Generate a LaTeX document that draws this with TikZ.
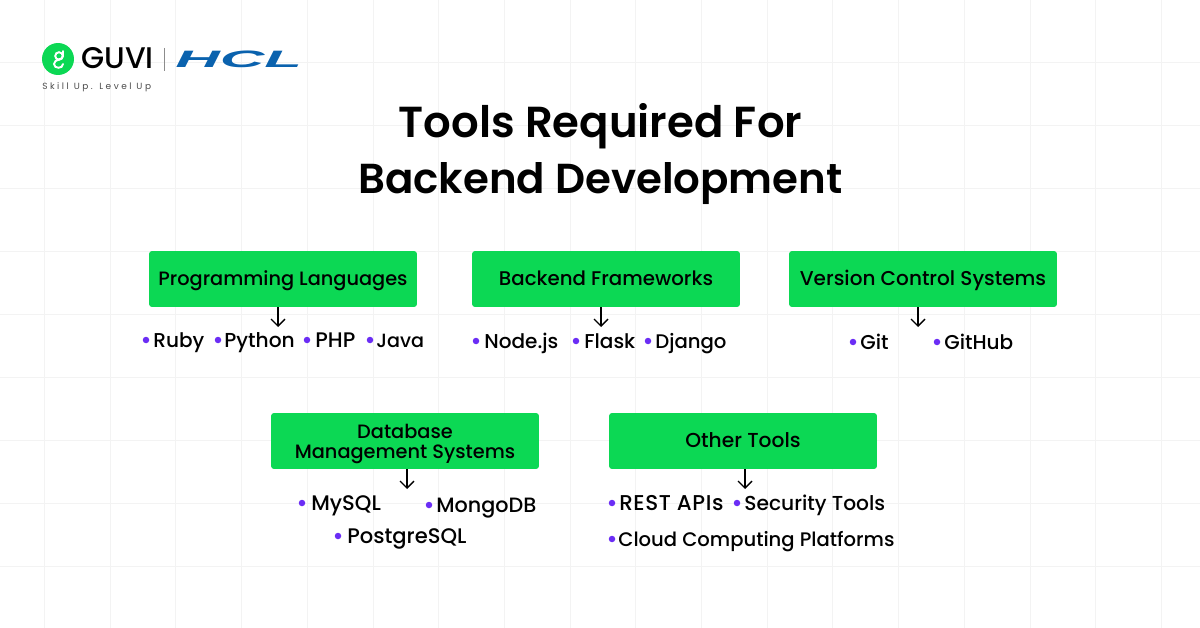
\documentclass[tikz,border=0pt]{standalone}
\usepackage{fontspec}
\setmainfont{Poppins}
\newfontfamily\medfont{Poppins Medium}
\newfontfamily\semifont{Poppins SemiBold}
\newfontfamily\hclfont{Liberation Sans}
\usetikzlibrary{arrows.meta}
\definecolor{guvigreen}{HTML}{0CD854}
\definecolor{guvipurple}{HTML}{6B2DF5}
\definecolor{hclblue}{HTML}{0A62AE}
\definecolor{gridgray}{HTML}{F3F3F3}
\tikzset{
  groupbox/.style={fill=guvigreen, rounded corners=1.7pt, minimum width=5.36cm, minimum height=1.12cm, inner sep=0pt, align=center, font=\medfont\fontsize{#1}{11.4}\selectfont, text=black},
  groupbox/.default=11.2,
  oneline/.style={text height=8.6pt, text depth=1.6pt},
  itemtext/.style={anchor=base west, inner sep=0pt, font=\medfont\fontsize{#1}{#1}\selectfont, text=black},
  itemtext/.default=11.4,
  itemdot/.style={circle, fill=guvipurple, minimum size=0.13cm, inner sep=0pt},
  downarrow/.style={-{Straight Barb[length=4pt,width=8pt]}, line width=0.75pt, black},
}
\begin{document}
\begin{tikzpicture}[x=0.02cm, y=-0.02cm]
  \useasboundingbox (0, 0) rectangle (1200, 628);
  \fill[white] (0, 0) rectangle (1200, 628);

  % grid
  \foreach \gx in {0,...,17} \draw[gridgray, line width=0.5pt] (44.5 + 65.7*\gx, 0) -- (44.5 + 65.7*\gx, 628);
  \foreach \gy in {0,...,8} \draw[gridgray, line width=0.5pt] (0, 62 + 63*\gy) -- (1200, 62 + 63*\gy);

  % logo
  \node[circle, fill=guvigreen, minimum size=0.64cm, inner sep=0pt] (logodot) at (58, 59) {};
  \draw[white, line width=1.1pt, line cap=round] (59, 56) circle (3.8);
  \draw[white, line width=1.1pt, line cap=round] (63, 51) -- (63, 56) .. controls (63, 60) and (54, 59) .. (54, 64) .. controls (54, 69) and (63, 69) .. (63, 64);
  \node[anchor=base west, inner sep=0pt, font=\medfont\fontsize{17}{17}\selectfont, text=black] (guvi) at (81, 69) {GUVI};
  \draw[black!45, line width=0.4pt] (164.5, 48) -- (164.5, 71);
  \node[anchor=base west, inner sep=0pt, text=hclblue, font=\hclfont\bfseries\itshape\fontsize{13.5}{14}\selectfont] (hcl) at (175, 68) {\scalebox{2.6}[1]{HCL}};
  \node[anchor=base west, inner sep=0pt, text=black!70, font=\fontsize{5.1}{6}\selectfont] (slogan) at (42, 90) {\addfontfeatures{LetterSpace=28}Skill Up. Level Up};

  % title
  \node[align=center, text=black, font=\semifont\fontsize{23.85}{32}\selectfont] (title) at (600.5, 154) {{\fontsize{24.7}{32}\selectfont Tools Required For}\\Backend Development};

  % boxes
  \node[groupbox=11, oneline] (lang) at (283, 279) {Programming Languages};
  \node[groupbox=11.25, oneline] (frame) at (606, 279) {Backend Frameworks};
  \node[groupbox=11.4, oneline] (vcs) at (923, 279) {Version Control Systems};
  \node[groupbox=11] (db) at (405, 441) {\rule{0pt}{11.7pt}Database\\Management Systems};
  \node[groupbox=11.5, oneline, text depth=0.8pt] (other) at (743, 441) {Other Tools};

  % arrows
  \coordinate (langend) at (278, 327);
  \coordinate (frameend) at (601, 327);
  \coordinate (vcsend) at (918, 327);
  \coordinate (dbend) at (407, 489);
  \coordinate (otherend) at (745, 489);
  \draw[downarrow] (lang.south -| langend) -- (langend);
  \draw[downarrow] (frame.south -| frameend) -- (frameend);
  \draw[downarrow] (vcs.south -| vcsend) -- (vcsend);
  \draw[downarrow] (db.south -| dbend) -- (dbend);
  \draw[downarrow] (other.south -| otherend) -- (otherend);

  % languages
  \node[itemdot] (ruby) at (146, 340) {};
  \node[itemtext] (rubyt) at (153, 347) {Ruby};
  \node[itemdot] (python) at (218, 340) {};
  \node[itemtext=11.5] (pythont) at (224, 347) {Python};
  \node[itemdot] (php) at (307, 340) {};
  \node[itemtext=12] (phpt) at (315, 347) {PHP};
  \node[itemdot] (java) at (370, 340) {};
  \node[itemtext=10.9] (javat) at (376, 347) {Java};

  % frameworks
  \node[itemdot] (node) at (476, 341) {};
  \node[itemtext] (nodet) at (484, 348) {Node.js};
  \node[itemdot] (flask) at (576, 341) {};
  \node[itemtext] (flaskt) at (584, 348) {Flask};
  \node[itemdot] (django) at (648, 341) {};
  \node[itemtext=11.2] (djangot) at (655, 348) {Django};

  % version control
  \node[itemdot] (git) at (853, 342) {};
  \node[itemtext] (gitt) at (860, 349) {Git};
  \node[itemdot] (github) at (937, 342) {};
  \node[itemtext] (githubt) at (944, 349) {GitHub};

  % databases
  \node[itemdot] (mysql) at (302, 503) {};
  \node[itemtext=12] (mysqlt) at (311, 510) {MySQL};
  \node[itemdot] (mongo) at (429, 505) {};
  \node[itemtext=11.8] (mongot) at (436, 512) {MongoDB};
  \node[itemdot] (postgre) at (338, 536) {};
  \node[itemtext=12] (postgret) at (347, 543) {PostgreSQL};

  % other tools
  \node[itemdot] (rest) at (612, 503) {};
  \node[itemtext=12.2] (restt) at (619, 510) {\addfontfeatures{LetterSpace=2.6}REST APIs};
  \node[itemdot] (sec) at (737, 503) {};
  \node[itemtext=11.5] (sect) at (744, 510) {Security Tools};
  \node[itemdot] (cloud) at (612, 539) {};
  \node[itemtext=11.15] (cloudt) at (618, 546) {Cloud Computing Platforms};
\end{tikzpicture}
\end{document}
